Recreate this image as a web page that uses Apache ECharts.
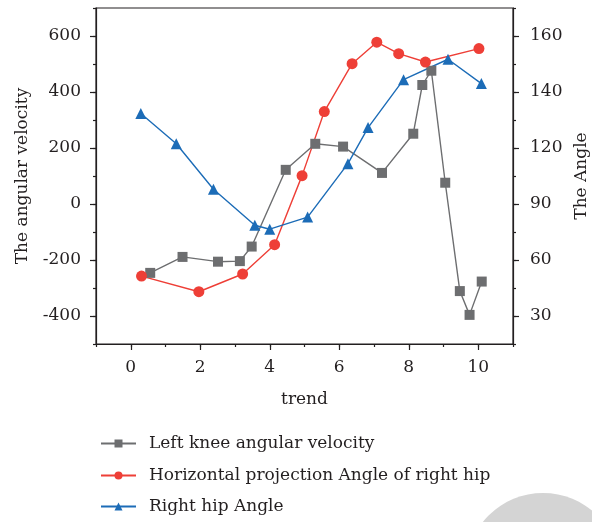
<!DOCTYPE html>
<html>
<head>
<meta charset="utf-8">
<script src="https://cdn.jsdelivr.net/npm/echarts@6/dist/echarts.min.js"></script>
<style>html,body{margin:0;padding:0;background:#fff;}#c{width:592px;height:522px;}</style>
</head>
<body>
<div id="c"></div>
<script>
// Left knee angular velocity (left axis)
const kneeX = [0.56,1.49,2.51,3.14,3.48,4.46,5.31,6.11,7.23,8.13,8.39,8.65,9.05,9.47,9.75,10.10];
const kneeY = [-246,-189,-206,-204,-152,122,215,205,111,251,425,476,76,-311,-396,-277];
// Horizontal projection Angle of right hip (right axis, degrees)
const projX = [0.31,1.96,3.22,4.14,4.93,5.57,6.37,7.08,7.71,8.48,10.02];
const projY = [51.4,43.0,52.5,68.2,105.2,133.0,150.1,157.8,153.7,150.7,155.5];
// Right hip Angle (right axis, degrees)
const hipX = [0.29,1.31,2.38,3.57,4.0,5.09,6.25,6.83,7.85,9.13,10.09];
const hipY = [132.3,121.5,97.9,78.6,76.5,83.0,111.6,127.3,144.4,151.7,143.0];

// Tick labels
const xTicks = [0,2,4,6,8,10];
const leftTicks = [-400,-200,0,200,400,600];
// Right axis as printed: tick labels are not evenly spaced in value
const rightTickPos = [-400,-200,0,200,400,600];
const rightTickLabels = [30,60,90,120,140,160];

function toRight(deg){
  const L = rightTickLabels, P = rightTickPos;
  let i = 0;
  if (deg >= L[L.length-1]) i = L.length-2;
  else { while (i < L.length-2 && deg > L[i+1]) i++; }
  return P[i] + (deg - L[i]) / (L[i+1] - L[i]) * (P[i+1] - P[i]);
}
const pairs = (xs, ys, f) => xs.map((x, i) => [x, f ? f(ys[i]) : ys[i]]);

const FONT = 'DejaVu Serif';
const FS = 17;
const TXT = '#231f20';
const LINE = {color: '#231f20', width: 1.2};
const XR = {min: -1, max: 11, interval: 1};
const YR = {min: -500, max: 700, interval: 100};

function mainAxis(extra, ticks, fmt, margin){
  return Object.assign({
    type: 'value',
    axisLine: {show: true, onZero: false, lineStyle: LINE},
    axisTick: {show: true, inside: false, length: 6, lineStyle: LINE, customValues: ticks},
    splitLine: {show: false},
    axisLabel: {fontFamily: FONT, fontSize: FS, color: TXT, margin: margin, customValues: ticks, formatter: fmt},
    nameTextStyle: {fontFamily: FONT, fontSize: FS, color: TXT}
  }, extra);
}
function helperAxis(extra){
  return Object.assign({
    type: 'value', silent: true,
    axisLine: {show: false, onZero: false},
    axisTick: {show: true, inside: false, length: 3, lineStyle: LINE},
    axisLabel: {show: false},
    splitLine: {show: false}
  }, extra);
}

const chart = echarts.init(document.getElementById('c'));
chart.setOption({
  animation: false,
  backgroundColor: '#fff',
  graphic: [{
    type: 'circle', z: -10, silent: true,
    shape: {cx: 543, cy: 570, r: 77},
    style: {fill: '#d4d4d4'}
  }],
  grid: {left: 96, right: 79, top: 8, bottom: 178, outerBoundsMode: 'none', containLabel: false,
    show: true, borderColor: '#231f20', borderWidth: 1.2, backgroundColor: 'transparent'},
  xAxis: [
    mainAxis(Object.assign({position: 'bottom', name: 'trend', nameLocation: 'middle', nameGap: 47}, XR),
      xTicks, v => String(v), 15),
    helperAxis(Object.assign({position: 'bottom'}, XR))
  ],
  yAxis: [
    mainAxis(Object.assign({position: 'left', name: 'The angular velocity', nameLocation: 'middle', nameGap: 65}, YR),
      leftTicks, v => String(v), 15),
    mainAxis(Object.assign({position: 'right', name: 'The Angle', nameLocation: 'middle', nameGap: 54, nameRotate: 90}, YR),
      rightTickPos, v => { const i = rightTickPos.indexOf(v); return i >= 0 ? String(rightTickLabels[i]) : ''; }, 17),
    helperAxis(Object.assign({position: 'left'}, YR)),
    helperAxis(Object.assign({position: 'right'}, YR))
  ],
  legend: [
    {data: ['Left knee angular velocity'], top: 430},
    {data: ['Horizontal projection Angle of right hip'], top: 462},
    {data: ['Right hip Angle'], top: 493}
  ].map(l => Object.assign({
    orient: 'vertical', left: 95, itemWidth: 35, itemHeight: 10,
    textStyle: {fontFamily: FONT, fontSize: FS, color: TXT, padding: [0,0,0,8]}
  }, l)),
  series: [
    {
      name: 'Left knee angular velocity', type: 'line', xAxisIndex: 0, yAxisIndex: 0,
      data: pairs(kneeX, kneeY),
      symbol: 'rect', symbolSize: 10,
      lineStyle: {color: '#6d6e70', width: 1.4},
      itemStyle: {color: '#6d6e70'}
    },
    {
      name: 'Horizontal projection Angle of right hip', type: 'line', xAxisIndex: 0, yAxisIndex: 1,
      data: pairs(projX, projY, toRight),
      symbol: 'circle', symbolSize: 11,
      lineStyle: {color: '#ee3f37', width: 1.4},
      itemStyle: {color: '#ee3f37'}
    },
    {
      name: 'Right hip Angle', type: 'line', xAxisIndex: 0, yAxisIndex: 1,
      data: pairs(hipX, hipY, toRight),
      symbol: 'triangle', symbolSize: 11,
      lineStyle: {color: '#1c6cb7', width: 1.4},
      itemStyle: {color: '#1c6cb7'}
    }
  ]
});
</script>
</body>
</html>
